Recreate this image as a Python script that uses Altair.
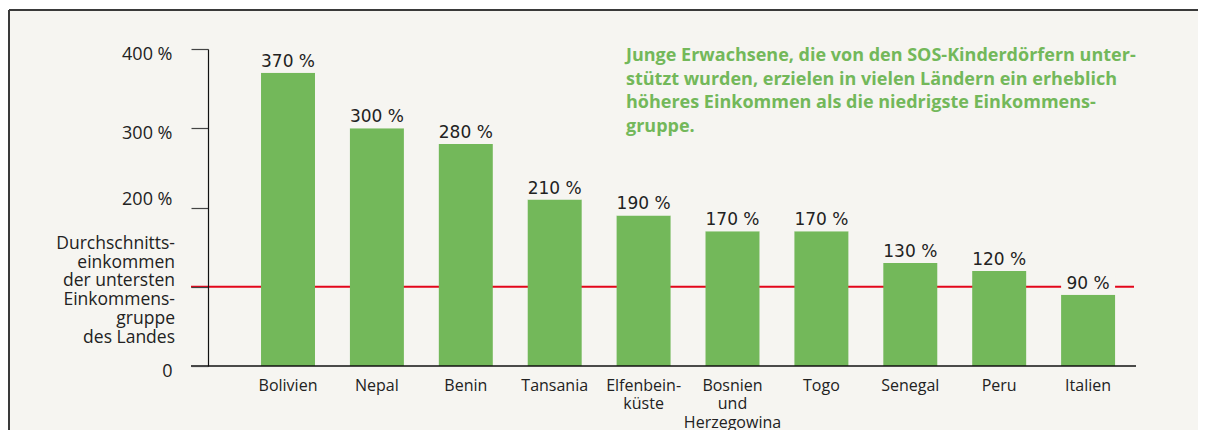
import altair as alt
import pandas as pd

countries = ["Bolivien", "Nepal", "Benin", "Tansania", "Elfenbein-|küste",
             "Bosnien|und|Herzegowina", "Togo", "Senegal", "Peru", "Italien"]
values = [370, 300, 280, 210, 190, 170, 170, 130, 120, 90]
value_labels = ["370 %", "300 %", "280 %", "210 %", "190 %", "170 %", "170 %", "130 %", "120 %", "90 %"]
y_ticks = [0, 50, 100, 150, 200, 250, 300, 350, 400]
reference_value = 100
reference_label = "Durchschnitts-\neinkommen\u00a0\nder untersten\u00a0\nEinkommens-\ngruppe\u00a0\ndes Landes"
note = ("Junge Erwachsene, die von den SOS-Kinderdörfern unter-\n"
        "stützt wurden, erzielen in vielen Ländern ein erheblich\n"
        "höheres Einkommen als die niedrigste Einkommens-\n"
        "gruppe.")

BG = "#f6f5f1"
GREEN = "#73b85a"
RED = "#e3061b"
TEXT = "#222222"
W, H = 928, 317

df = pd.DataFrame({"land": countries, "wert": values, "label": value_labels})

xscale = alt.Scale(paddingInner=0.393, paddingOuter=0.416, align=0.717)
x = alt.X("land:N", sort=None, scale=xscale,
          axis=alt.Axis(title=None, labelExpr="split(datum.label, '|')", zindex=2,
                        labelFont="Open Sans", labelFontSize=16, labelColor=TEXT,
                        labelLineHeight=18.5, labelPadding=11, ticks=False, tickSize=0,
                        domain=False, labelAngle=0, labelBaseline="top"))
yscale = alt.Scale(domain=[0, 400], nice=False)
yaxis = alt.Axis(title=None, values=y_ticks, grid=False, tickSize=17, tickColor="#444444",
                 tickWidth=1.2, domainColor="#111111", domainWidth=1.2, zindex=2,
                 labelFont="Open Sans", labelFontSize=18, labelColor=TEXT, labelPadding=19,
                 labelOffset={"condition": {"test": "datum.value == 200", "value": -8}, "value": 5},
                 labelExpr="datum.value == 0 ? '0' : (datum.value >= 200 && datum.value % 100 == 0 ? datum.value + ' %' : '')")

base = alt.Chart(df)

bg = base.mark_rect(color=BG).encode(
    x=alt.value(-199), x2=alt.value(W + 70), y=alt.value(-39), y2=alt.value(H + 70))
frame_top = base.mark_rule(color="#3a3a3a", strokeWidth=2).encode(
    x=alt.value(-199), x2=alt.value(W + 70), y=alt.value(-39))
frame_left = base.mark_rule(color="#3a3a3a", strokeWidth=2).encode(
    x=alt.value(-199), y=alt.value(-39), y2=alt.value(H + 70))

ref_df = pd.DataFrame({"ref": [reference_value], "txt": [reference_label]})
ref_rule = alt.Chart(ref_df).mark_rule(color=RED, strokeWidth=2).encode(
    y=alt.Y("ref:Q", scale=yscale, axis=yaxis), x=alt.value(-17), x2=alt.value(926))

bars = base.mark_bar(color=GREEN).encode(
    x=x, y=alt.Y("wert:Q", scale=yscale, axis=yaxis))

label_bg = base.transform_calculate(top="datum.wert + 28").mark_bar(color=BG).encode(
    x=x, y=alt.Y("wert:Q", scale=yscale), y2="top:Q")

value_text = base.mark_text(font="DejaVu Sans", fontSize=17, color=TEXT,
                            baseline="alphabetic", dy=-6).encode(
    x=x, y=alt.Y("wert:Q", scale=yscale), text="label:N")

zero_df = pd.DataFrame({"z": [0]})
baseline = alt.Chart(zero_df).mark_rule(color="#111111", strokeWidth=1.5).encode(
    y=alt.Y("z:Q", scale=yscale), x=alt.value(-17), x2=alt.value(W))

ref_text = alt.Chart(ref_df).mark_text(font="Open Sans", fontSize=17.5, color=TEXT, align="right",
                                       baseline="middle", lineBreak="\n", lineHeight=18.8,
                                       dy=-43).encode(
    y=alt.Y("ref:Q", scale=yscale), x=alt.value(-33), text="txt:N")

note_df = pd.DataFrame({"t": [note]})
note_text = alt.Chart(note_df).mark_text(font="Open Sans", fontSize=18, fontWeight="bold",
                                         color=GREEN, align="left", baseline="alphabetic",
                                         lineBreak="\n", lineHeight=23.6).encode(
    x=alt.value(418), y=alt.value(12), text="t:N")

chart = alt.layer(bg, frame_top, frame_left, ref_rule, bars, label_bg, value_text, baseline,
                  ref_text, note_text).properties(
    width=W, height=H,
    autosize=alt.AutoSizeParams(type="none"),
    padding={"left": 200, "top": 41, "right": 62, "bottom": 64},
    background="white",
).configure_view(stroke=None)

chart.save("out.html", embed_options={"renderer": "svg", "actions": False})
